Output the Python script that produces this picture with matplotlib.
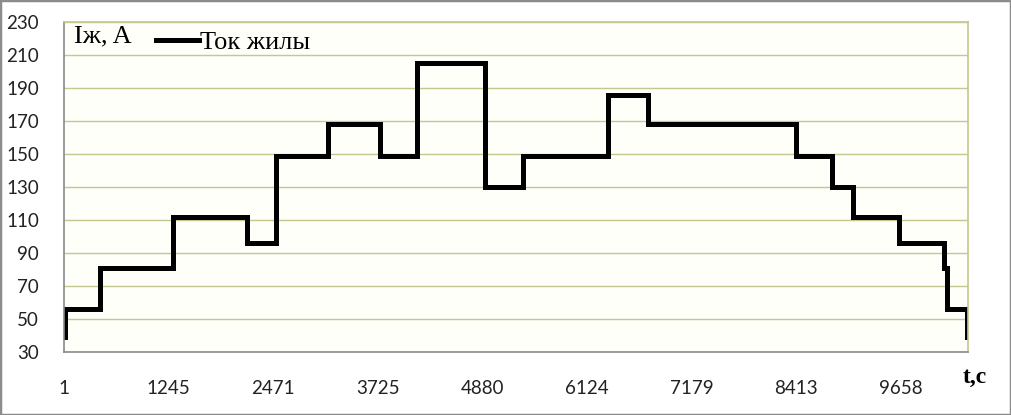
import numpy as np
import matplotlib
matplotlib.use('Agg')
import matplotlib.pyplot as plt
from matplotlib.patches import Rectangle

# sample index where each step of the current starts, and its level, A
step_start = [0, 1, 34, 104, 175, 203, 252, 302, 337, 402, 439, 520, 558,
              700, 734, 754, 798, 841, 844, 863]
step_level = [39, 56, 81, 112, 96, 149, 168, 149, 205, 130, 149, 186, 168,
              149, 130, 112, 96, 81, 56, 39]
n_points = 865

# category labels shown every 100 samples (time, s)
tick_labels = ['1', '1245', '2471', '3725', '4880', '6124', '7179', '8413', '9658']
label_step = 100

x = step_start + [n_points - 1]
y = step_level + [step_level[-1]]

fig = plt.figure(figsize=(10.11, 4.15), dpi=100)
ax = fig.add_axes([64/1011, 1-352/415, (968-64)/1011, (352-22)/415])
ax.set_facecolor('#FFFFFA')

ax.plot(x, y, drawstyle='steps-post', color='black', lw=3.6,
        solid_joinstyle='miter', label='Ток жилы')

ax.set_xlim(0, n_points - 1)
ax.set_ylim(30, 230)
ax.set_yticks(np.arange(30, 231, 20))
ax.set_xticks(np.arange(len(tick_labels)) * label_step)
ax.set_xticklabels(tick_labels)
ax.grid(axis='y', color='#C6C690', lw=1)
ax.set_axisbelow(True)

for lab in ax.get_xticklabels() + ax.get_yticklabels():
    lab.set_fontfamily('Lato')
    lab.set_fontsize(13.5)
    lab.set_color('#222222')
ax.tick_params(axis='both', length=0)
ax.tick_params(axis='y', pad=18)
ax.tick_params(axis='x', pad=20)

ax.spines['top'].set_color('#C6C690')
ax.spines['right'].set_color('#C6C690')
ax.spines['left'].set_color('#8A8A8A')
ax.spines['bottom'].set_color('#8A8A8A')
for s in ax.spines.values():
    s.set_linewidth(1.2)

ax.text(0.011, 0.99, 'Iж, A', transform=ax.transAxes, ha='left', va='top',
        family='Liberation Serif', fontsize=19)
leg = ax.legend(loc='upper left', bbox_to_anchor=(0.076, 1.045), frameon=False,
                prop={'family': 'Liberation Serif', 'size': 19},
                handlelength=1.6, handletextpad=0.05)

fig.text(975/1011, 1-377/415, 't,c', ha='center', va='center',
         family='Liberation Serif', fontsize=17, fontweight='bold')

fig.patches.append(Rectangle((0, 0), 1, 1, transform=fig.transFigure,
                             fill=False, edgecolor='#8C8C8C', lw=2.5))

fig.savefig('out.png', dpi=100)
